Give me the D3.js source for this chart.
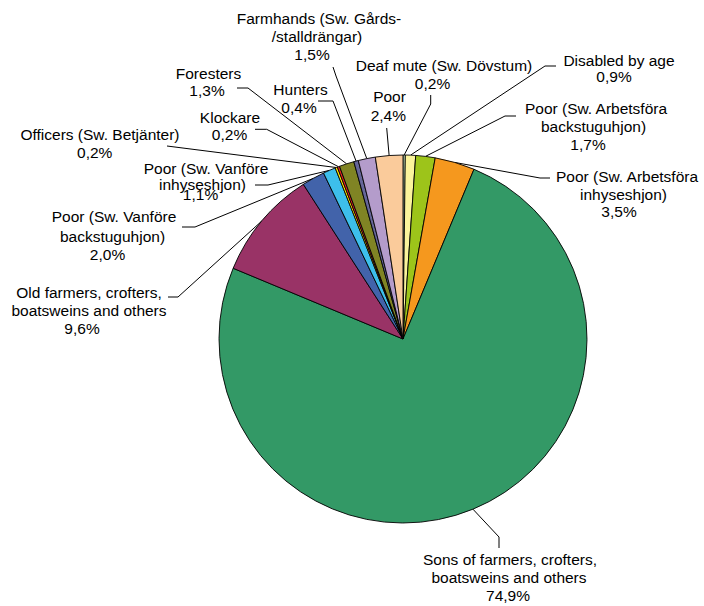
<!DOCTYPE html>
<html>
<head>
<meta charset="utf-8">
<script src="https://cdn.jsdelivr.net/npm/d3@7"></script>
<style>
  html, body { margin: 0; padding: 0; background: #ffffff; }
  svg { display: block; }
  text { font-family: "Liberation Sans", Arial, sans-serif; font-size: 15.5px; fill: #000; }
</style>
</head>
<body>
<svg id="chart" width="704" height="606"></svg>
<script>
// Occupational groups, clockwise from 12 o'clock
const categories = [
  "Deaf mute (Sw. Dövstum)",
  "Disabled by age",
  "Poor (Sw. Arbetsföra\nbackstuguhjon)",
  "Poor (Sw. Arbetsföra\ninhyseshjon)",
  "Sons of farmers, crofters,\nboatsweins and others",
  "Old farmers, crofters,\nboatsweins and others",
  "Poor (Sw. Vanföre\nbackstuguhjon)",
  "Poor (Sw. Vanföre\ninhyseshjon)",
  "Officers (Sw. Betjänter)",
  "Klockare",
  "Foresters",
  "Hunters",
  "Farmhands (Sw. Gårds-\n/stalldrängar)",
  "Poor"
];

// Share of each group, percent
const shares = [0.2, 0.9, 1.7, 3.5, 74.9, 9.6, 2.0, 1.1, 0.2, 0.2, 1.3, 0.4, 1.5, 2.4];

// Slice fills
const colors = [
  "#d4f5c8", "#fbf49c", "#9dc41a", "#f5981e", "#339966", "#993366", "#4263aa",
  "#3dbfeb", "#ffe800", "#e52320", "#808424", "#666699", "#b49ccb", "#facb9b"
];

// Label placement: one [x, baseline] per text line (last line = percentage),
// plus the label-side points of each leader line before it reaches the slice.
const labelLayout = [
  { lines: [[444, 70.5], [432.5, 88.5]],                   leader: [[430.7, 95], [430.7, 104]] },
  { lines: [[619, 65.5], [614, 82]],                       leader: [[556, 66], [545, 66]] },
  { lines: [[596, 114], [593.5, 132], [588, 150]],         leader: [[516, 116], [505, 116]] },
  { lines: [[627, 181.5], [623.5, 199.5], [619, 217]],     leader: [[550, 178], [540, 178]] },
  { lines: [[510, 565], [509, 583], [508, 601]],           leader: [[499, 548], [499, 537]] },
  { lines: [[89, 298], [89, 316], [82, 334]],              leader: [[168, 297], [178, 297]] },
  { lines: [[114, 221.5], [112.5, 241.5], [107.5, 259.5]], leader: [[182, 227], [195, 227]] },
  { lines: [[206, 174], [202.5, 189.5], [200.5, 200]],     leader: [[255, 185], [268, 185]] },
  { lines: [[100, 140], [94.7, 158]],                      leader: [[167, 146]] },
  { lines: [[230, 123.3], [229.5, 140]],                   leader: [[255, 129.3], [266.7, 129.3]] },
  { lines: [[208.5, 79], [207, 96]],                       leader: [[237, 88], [248, 88]] },
  { lines: [[300.5, 95], [299, 113]],                      leader: [[318, 101], [333, 101]] },
  { lines: [[319, 24], [317, 42], [312, 60]],              leader: [[333, 67], [336, 76]] },
  { lines: [[389.5, 101.5], [388.3, 120.5]],               leader: [[386.7, 128]] }
];

const cx = 403, cy = 339, radius = 184;

const data = categories.map((name, i) => ({ name, value: shares[i], color: colors[i], layout: labelLayout[i] }));

const pie = d3.pie().sort(null).value(d => d.value).startAngle(0).endAngle(2 * Math.PI);
const arcs = pie(data);

const arc = d3.arc().innerRadius(0).outerRadius(radius);
const rimArc = d3.arc().innerRadius(radius).outerRadius(radius);

const svg = d3.select("#chart");

// Leader lines
const leaders = svg.append("g").attr("fill", "none").attr("stroke", "#000").attr("stroke-width", 1);
arcs.forEach(a => {
  const rim = rimArc.centroid(a);
  const pts = a.data.layout.leader.concat([[cx + rim[0], cy + rim[1]]]);
  leaders.append("path").attr("d", d3.line()(pts));
});

// Slices
const g = svg.append("g").attr("transform", `translate(${cx},${cy})`);
g.selectAll("path.slice")
  .data(arcs)
  .join("path")
  .attr("class", "slice")
  .attr("d", arc)
  .attr("fill", d => d.data.color)
  .attr("stroke", "#000")
  .attr("stroke-width", 0.9)
  .attr("stroke-linejoin", "round");

// Labels
const fmt = v => d3.format(".1f")(v).replace(".", ",") + "%";
const labels = svg.append("g");
arcs.forEach(a => {
  const textLines = a.data.name.split("\n").concat([fmt(a.data.value)]);
  textLines.forEach((t, j) => {
    const [x, y] = a.data.layout.lines[j];
    labels.append("text")
      .attr("x", x)
      .attr("y", y)
      .attr("text-anchor", "middle")
      .text(t);
  });
});
</script>
</body>
</html>
